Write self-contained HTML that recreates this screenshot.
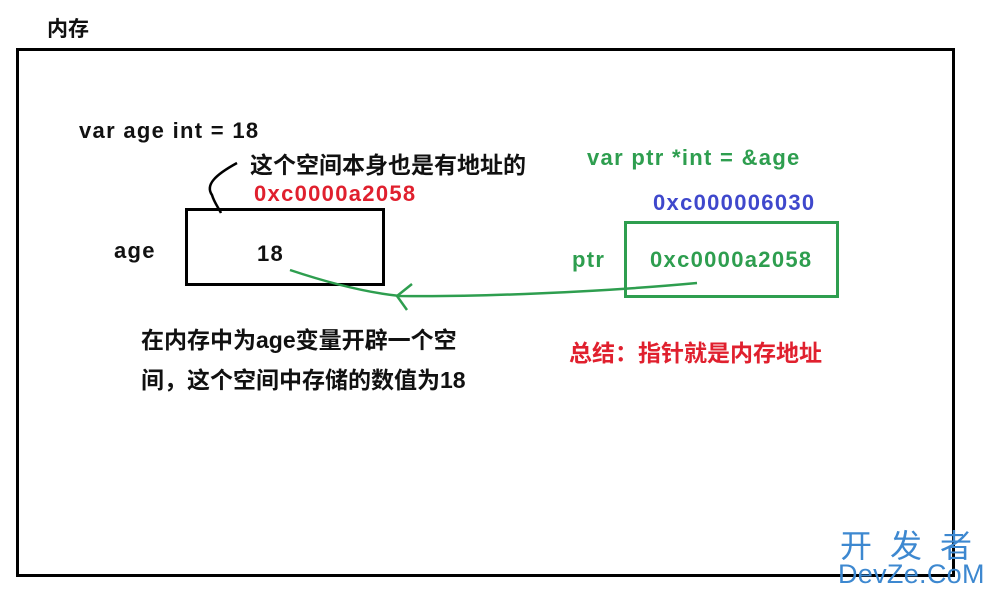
<!DOCTYPE html>
<html><head><meta charset="utf-8"><style>
body{margin:0;width:996px;height:596px;background:#fff;position:relative;overflow:hidden;font-family:"Liberation Sans","Noto Sans CJK SC",sans-serif;font-weight:bold;}
.t{position:absolute;font-size:22px;line-height:24px;white-space:nowrap;color:#111;letter-spacing:1.3px}
.c{font-size:23px;letter-spacing:0}
.box{position:absolute;box-sizing:border-box;}
</style></head><body>
<div class="box" style="left:16px;top:48px;width:939px;height:529px;border:3px solid #000"></div>
<div class="box" style="left:185px;top:208px;width:200px;height:78px;border:3px solid #000"></div>
<div class="box" style="left:624px;top:221px;width:215px;height:77px;border:3px solid #2e9e4f"></div>
<div class="t c" style="left:47px;top:18px;font-size:21px">内存</div>
<div class="t" style="left:79px;top:119px">var age int = 18</div>
<div class="t c" style="left:250px;top:153px">这个空间本身也是有地址的</div>
<div class="t" style="left:254px;top:182px;color:#e0202e">0xc0000a2058</div>
<div class="t" style="left:114px;top:239px">age</div>
<div class="t" style="left:257px;top:242px">18</div>
<div class="t" style="left:587px;top:146px;color:#2e9e4f">var ptr *int = &amp;age</div>
<div class="t" style="left:653px;top:191px;color:#3f48cc">0xc000006030</div>
<div class="t" style="left:572px;top:248px;color:#2e9e4f">ptr</div>
<div class="t" style="left:650px;top:248px;color:#2e9e4f">0xc0000a2058</div>
<div class="t c" style="left:141px;top:328px">在内存中为age变量开辟一个空</div>
<div class="t c" style="left:141px;top:368px">间，这个空间中存储的数值为18</div>
<div class="t c" style="left:569px;top:341px;color:#e0202e">总结：指针就是内存地址</div>
<svg style="position:absolute;left:0;top:0" width="996" height="596">
<path d="M237 163 C215 175 205 185 212 195 C214 202 218 207 221 213" stroke="#000" stroke-width="2.5" fill="none"/>
<path d="M697 283 C600 292 480 297 400 296 C360 292 320 280 290 270" stroke="#2e9e4f" stroke-width="2.5" fill="none"/>
<path d="M412 284 L397 296 L407 310" stroke="#2e9e4f" stroke-width="2.5" fill="none"/>
</svg>
<div class="t" style="left:840px;top:528px;font-size:32px;line-height:36px;font-weight:normal;color:#3d88d0;letter-spacing:18px">开发者</div>
<div class="t" style="left:838px;top:560px;font-size:27px;line-height:28px;font-weight:normal;color:#3d88d0;letter-spacing:0.3px">DevZe.CoM</div>
</body></html>
